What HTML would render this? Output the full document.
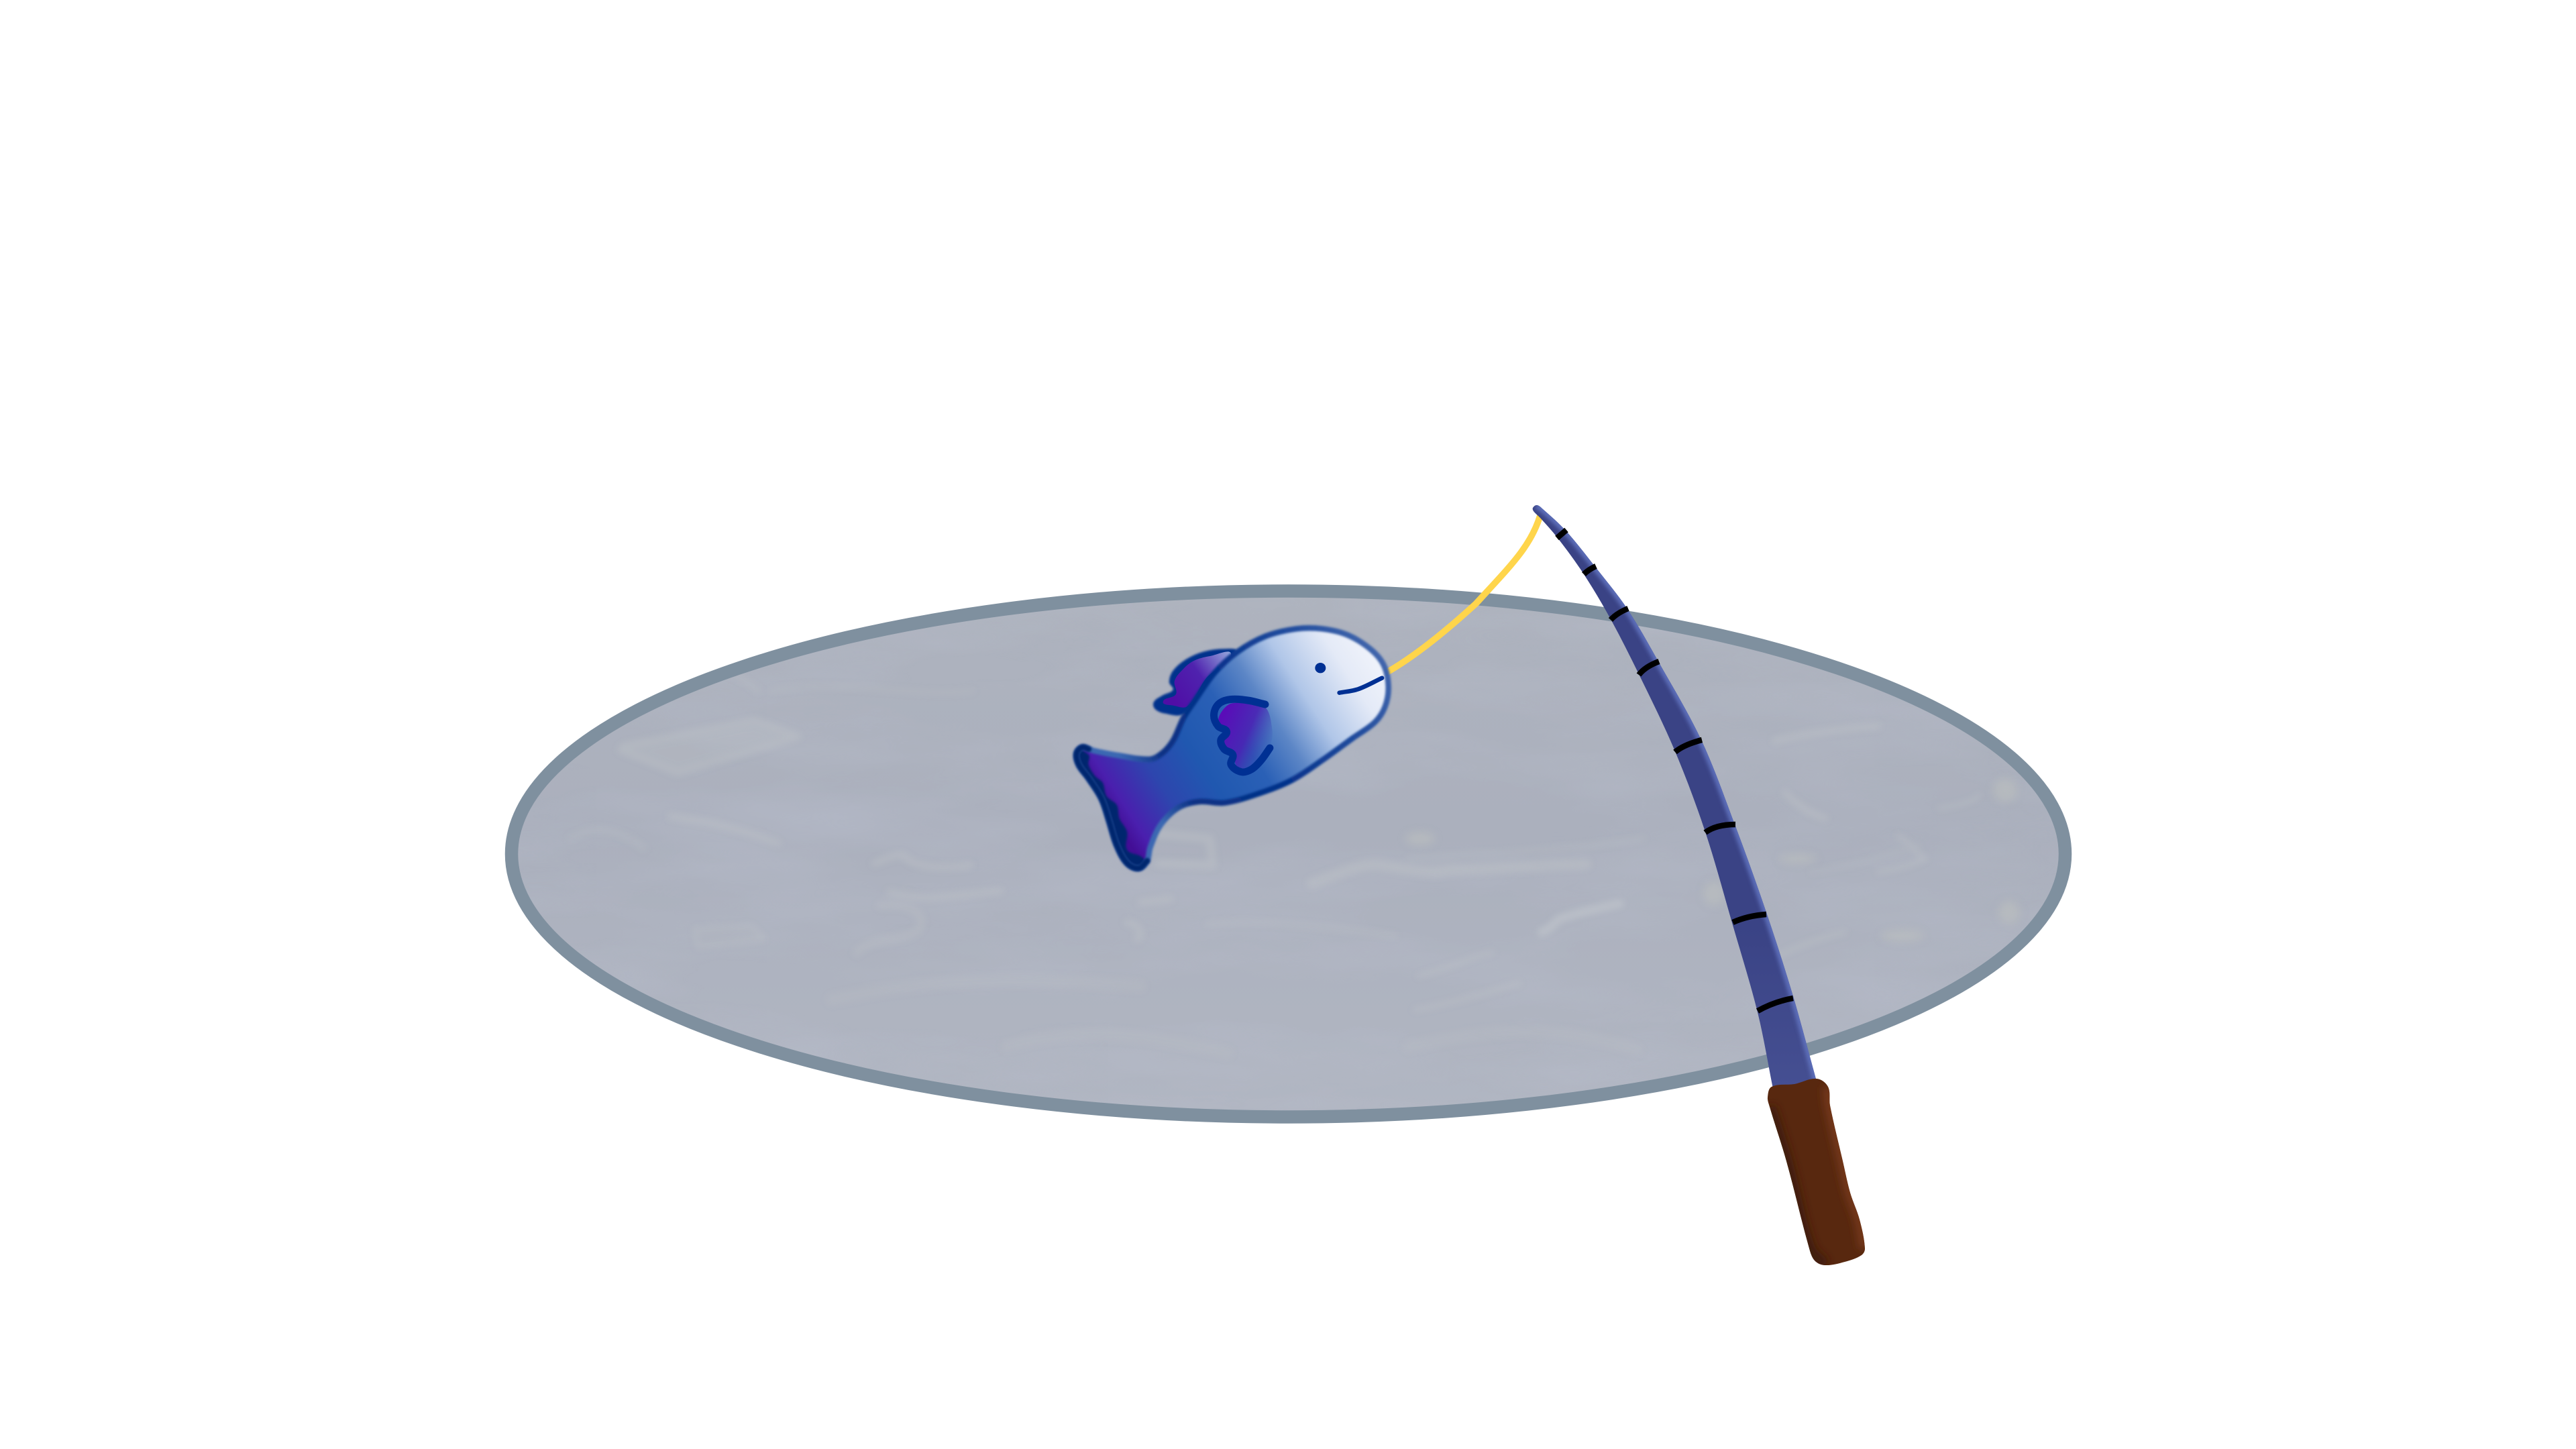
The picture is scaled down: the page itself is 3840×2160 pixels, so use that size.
<!DOCTYPE html>
<html lang="en">
<head>
<meta charset="utf-8">
<title>Fishing illustration</title>
<style>
html,body{margin:0;padding:0;width:3840px;height:2160px;background:#fff;overflow:hidden}
svg{display:block}
</style>
</head>
<body>
<svg id="scene" xmlns="http://www.w3.org/2000/svg" width="3840" height="2160" viewBox="0 0 3840 2160">
<defs>
  <clipPath id="pondClip"><ellipse cx="1920.5" cy="1273" rx="1158" ry="392"/></clipPath>
  <clipPath id="bodyClip"><path id="bodyClipPath"/></clipPath>
  <clipPath id="rodClip"><path id="rodClipPath"/></clipPath>
  <clipPath id="gripClip"><path id="gripClipPath"/></clipPath>
  <filter id="ripples" x="0" y="0" width="100%" height="100%" color-interpolation-filters="sRGB">
    <feTurbulence type="fractalNoise" baseFrequency="0.003 0.011" numOctaves="4" seed="7"/>
    <feColorMatrix type="matrix" values="0 0 0 0 0.74  0 0 0 0 0.76  0 0 0 0 0.82  1.6 0 0 0 -0.62"/>
  </filter>
  <filter id="b1" x="-10%" y="-10%" width="120%" height="120%"><feGaussianBlur stdDeviation="1.6"/></filter>
  <filter id="b2" x="-30%" y="-30%" width="160%" height="160%"><feGaussianBlur stdDeviation="3"/></filter>
  <filter id="b3" x="-50%" y="-50%" width="200%" height="200%"><feGaussianBlur stdDeviation="6"/></filter>
  <filter id="bw" filterUnits="userSpaceOnUse" x="740" y="860" width="2360" height="830"><feGaussianBlur stdDeviation="5"/></filter>
  <linearGradient id="pondShade" x1="0" y1="0" x2="0" y2="1">
    <stop offset="0" stop-color="#aeb3be"/>
    <stop offset="0.45" stop-color="#abb0bd"/>
    <stop offset="1" stop-color="#b1b6c2"/>
  </linearGradient>
  <linearGradient id="rodBase" gradientUnits="userSpaceOnUse" x1="0" y1="1380" x2="0" y2="1620">
    <stop offset="0" stop-color="#3a4385"/>
    <stop offset="1" stop-color="#454f92"/>
  </linearGradient>
  <linearGradient id="bodyFill" gradientUnits="userSpaceOnUse" x1="2060" y1="960" x2="1660" y2="1220">
    <stop offset="0" stop-color="#f4f6fc"/>
    <stop offset="0.14" stop-color="#e4eaf7"/>
    <stop offset="0.29" stop-color="#b0c6e8"/>
    <stop offset="0.41" stop-color="#5c86c6"/>
    <stop offset="0.53" stop-color="#2a60b6"/>
    <stop offset="0.68" stop-color="#2058b0"/>
    <stop offset="0.82" stop-color="#2d46ae"/>
    <stop offset="0.95" stop-color="#4a1fae"/>
    <stop offset="1" stop-color="#430e96"/>
  </linearGradient>
  <linearGradient id="bodyStroke" gradientUnits="userSpaceOnUse" x1="2060" y1="960" x2="1660" y2="1220">
    <stop offset="0" stop-color="#4468ad"/>
    <stop offset="0.2" stop-color="#234e9f"/>
    <stop offset="0.5" stop-color="#03308a"/>
    <stop offset="0.76" stop-color="#0a3084"/>
    <stop offset="0.88" stop-color="#3a68b2"/>
    <stop offset="1" stop-color="#3a68b2"/>
  </linearGradient>
  <linearGradient id="dorsalFill" gradientUnits="userSpaceOnUse" x1="1745" y1="1040" x2="1835" y2="975">
    <stop offset="0" stop-color="#4f0ea6"/>
    <stop offset="0.5" stop-color="#4f22ae"/>
    <stop offset="1" stop-color="#93a4dc"/>
  </linearGradient>
  <linearGradient id="sideFinFill" gradientUnits="userSpaceOnUse" x1="1820" y1="1075" x2="1900" y2="1110">
    <stop offset="0" stop-color="#5a0cb8" stop-opacity="1"/>
    <stop offset="0.5" stop-color="#4a22b4" stop-opacity="0.9"/>
    <stop offset="1" stop-color="#2e52b4" stop-opacity="0"/>
  </linearGradient>
</defs>

<!-- pond -->
<g>
  <ellipse cx="1920.5" cy="1273" rx="1158" ry="392" fill="url(#pondShade)"/>
  <g clip-path="url(#pondClip)">
    <rect x="740" y="860" width="2360" height="830" filter="url(#ripples)" opacity="0.4"/>
    <g fill="none" stroke="#c0c4c8" stroke-linecap="round" stroke-linejoin="round" stroke-width="10" filter="url(#bw)" opacity="0.42">
      <path d="M925 1118L1010 1152L1190 1098L1125 1074L930 1112Z" fill="#bcc1c4" fill-opacity="0.6"/>
      <path d="M1000 1217C1060 1225 1110 1238 1160 1257"/>
      <path d="M1304 1287C1325 1278 1340 1272 1348 1275C1358 1292 1400 1296 1446 1290"/>
      <path d="M1326 1330C1350 1336 1380 1340 1400 1337C1430 1335 1460 1332 1491 1328"/>
      <path d="M1312 1350C1350 1345 1385 1360 1370 1385C1350 1405 1300 1395 1277 1420" stroke-width="12" opacity="0.7"/>
      <path d="M1035 1385L1120 1380L1140 1400L1040 1412Z" fill="#b6babf" fill-opacity="0.5" stroke-width="5"/>
      <path d="M1956 1317C1990 1305 2030 1285 2058 1290C2100 1295 2130 1305 2160 1297C2240 1295 2300 1290 2364 1288" stroke-width="16"/>
      <path d="M2298 1390C2320 1380 2320 1368 2334 1367C2370 1356 2390 1352 2415 1347" stroke="#cdd2d4" stroke-width="12"/>
      <path d="M1727 1243L1803 1250L1808 1290L1727 1287" stroke-width="12"/>
      <path d="M1680 1375C1700 1378 1705 1395 1695 1400"/>
      <path d="M1700 1345L1745 1340"/>
      <path d="M2646 1104C2700 1092 2750 1086 2800 1082"/>
      <path d="M2661 1182C2680 1200 2700 1215 2721 1220"/>
      <path d="M2829 1246C2850 1255 2855 1275 2871 1279C2850 1290 2830 1295 2800 1300" stroke-width="7"/>
      <path d="M2890 1205C2920 1200 2945 1195 2950 1185" stroke-width="6"/>
      <path d="M1800 1377C1900 1370 2000 1385 2080 1395" stroke-width="8" opacity="0.7"/>
      <path d="M2115 1455C2170 1440 2210 1420 2225 1420" stroke-width="7"/>
      <path d="M2110 1505C2170 1495 2250 1470 2265 1465" stroke-width="7"/>
      <path d="M1240 1490C1340 1470 1450 1450 1700 1470" stroke-width="18" opacity="0.5"/>
      <path d="M1500 1560C1600 1530 1700 1540 1830 1570" stroke-width="18" opacity="0.5"/>
      <path d="M2100 1560C2200 1540 2300 1520 2440 1565" stroke-width="18" opacity="0.5"/>
      <path d="M2100 1280C2250 1270 2350 1265 2450 1250" stroke-width="8" opacity="0.6"/>
      <path d="M900 980C1000 960 1100 1000 1130 1030" opacity="0.6"/>
      <path d="M1150 1030C1250 1010 1350 1040 1450 1030" stroke-width="8" opacity="0.5"/>
      <path d="M850 1250C890 1225 930 1240 960 1265" opacity="0.6"/>
      <path d="M2700 1300C2760 1290 2800 1280 2860 1260" stroke-width="7" opacity="0.6"/>
      <path d="M2640 1430C2680 1410 2720 1395 2750 1390" stroke-width="7"/>
    </g>
    <g fill="#bfc2bf" filter="url(#b3)" opacity="0.5">
      <ellipse cx="2836" cy="1395" rx="32" ry="9"/>
      <ellipse cx="2989" cy="1178" rx="18" ry="18"/>
      <ellipse cx="2995" cy="1360" rx="16" ry="18"/>
      <ellipse cx="2555" cy="1332" rx="16" ry="18"/>
      <ellipse cx="2680" cy="1280" rx="28" ry="7"/>
      <ellipse cx="2117" cy="1250" rx="22" ry="10"/>
    </g>
  </g>
  <ellipse cx="1920.5" cy="1273" rx="1158" ry="392" fill="none" stroke="#7f909f" stroke-width="19.5"/>
</g>

<!-- fishing line -->
<path d="M2296 768C2282 815 2250 845 2200 900C2165 932 2115 975 2066 1003" fill="none" stroke="#ffd54b" stroke-width="9.5"/>

<!-- rod -->
<g>
  <path id="rodShape" fill="url(#rodBase)"/>
  <g clip-path="url(#rodClip)">
    <path id="rodHighlight" fill="none" stroke="#5c6db8" stroke-width="11" filter="url(#b2)"/>
  </g>
  <g fill="none" stroke="#000" stroke-width="8.5">
    <path d="M2321 802L2335 790"/>
    <path d="M2361 856Q2368 849 2379 844"/>
    <path d="M2401 924Q2410 914 2427 907"/>
    <path d="M2443 1006Q2452 994 2473 986"/>
    <path d="M2497 1121Q2510 1110 2537 1103"/>
    <path d="M2542 1241Q2558 1229 2587 1229"/>
    <path d="M2583 1375Q2605 1365 2633 1363"/>
    <path d="M2620 1507Q2645 1493 2673 1488"/>
  </g>
  <path id="gripShape" fill="#58280f"/>
  <g clip-path="url(#gripClip)">
    <path id="gripLight" fill="none" stroke="#74381a" stroke-width="16" filter="url(#b3)"/>
    <path id="gripDark" fill="none" stroke="#3f1c0c" stroke-width="18" filter="url(#b3)"/>
  </g>
</g>

<!-- fish -->
<g>
  <path id="dorsalOuter" fill="#04308c" stroke="#04308c" stroke-width="1" filter="url(#b1)"/>
  <path id="dorsalInner" fill="url(#dorsalFill)"/>
  <path id="bodyFillPath" fill="url(#bodyFill)"/>
  <g clip-path="url(#bodyClip)">
    <path id="tailDark" fill="#03256e" filter="url(#b1)"/>
  </g>
  <path id="bodyStrokePath" fill="none" stroke="url(#bodyStroke)" stroke-width="8.5" filter="url(#b1)"/>
  <path id="tailEdge" fill="none" stroke="#03256e" stroke-width="9" stroke-linecap="round" filter="url(#b1)"/>
  <path id="sideFinFillPath" fill="url(#sideFinFill)"/>
  <path id="sideFinStroke" fill="none" stroke="#003093" stroke-width="11" stroke-linecap="round" stroke-linejoin="round"/>
  <ellipse cx="1968.3" cy="995.7" rx="8" ry="7.7" fill="#003093"/>
  <path id="mouth" fill="none" stroke="#003093" stroke-width="6.5" stroke-linecap="round"/>
</g>
</svg>

<script>
var toX = function (x) { return 1550 + x / 2.613; };
var toY = function (y) { return 900 + y / 3; };
function fishPts(a) { return a.map(function (p) { return [toX(p[0]), toY(p[1])]; }); }
function smooth(pts, closed) {
  var n = pts.length, d = 'M' + pts[0][0].toFixed(1) + ' ' + pts[0][1].toFixed(1);
  var segs = closed ? n : n - 1;
  function g(i) { return closed ? pts[(i + n) % n] : pts[Math.max(0, Math.min(n - 1, i))]; }
  function tan(i) {
    var a = g(i - 1), b = g(i + 1), dx = b[0] - a[0], dy = b[1] - a[1], l = Math.sqrt(dx * dx + dy * dy) || 1;
    return [dx / l, dy / l];
  }
  for (var i = 0; i < segs; i++) {
    var p1 = g(i), p2 = g(i + 1), t1 = tan(i), t2 = tan(i + 1);
    var len = Math.sqrt(Math.pow(p2[0] - p1[0], 2) + Math.pow(p2[1] - p1[1], 2)) / 3;
    d += 'C' + (p1[0] + t1[0] * len).toFixed(1) + ' ' + (p1[1] + t1[1] * len).toFixed(1) + ' ' + (p2[0] - t2[0] * len).toFixed(1) + ' ' + (p2[1] - t2[1] * len).toFixed(1) + ' ' + p2[0].toFixed(1) + ' ' + p2[1].toFixed(1);
  }
  return closed ? d + 'Z' : d;
}
function set(id, d) { document.getElementById(id).setAttribute('d', d); }

var bodyOutline = fishPts([[143,670],[165,642],[210,657],[300,677],[430,695],[480,665],[520,610],[560,510],[600,440],[680,310],[770,215],[880,145],[1000,112],[1100,112],[1200,140],[1290,205],[1340,275],[1358,370],[1345,460],[1305,530],[1220,600],[1100,700],[980,790],[850,850],[720,890],[620,885],[540,912],[470,990],[430,1090],[418,1150],[385,1183],[340,1160],[300,1080],[270,970],[240,870],[190,780],[152,720]]);
var bodyD = smooth(bodyOutline, true);
set('bodyFillPath', bodyD);
set('bodyStrokePath', bodyD);
set('bodyClipPath', bodyD);

set('tailDark', smooth(fishPts([[120,650],[190,675],[190,720],[215,770],[245,800],[260,860],[300,900],[310,960],[340,1020],[340,1100],[400,1135],[430,1210],[300,1210],[120,800]]), true));
set('tailEdge', smooth(fishPts([[190,650],[165,642],[143,670],[152,720],[190,780],[240,870],[270,970],[300,1080],[340,1160],[385,1183],[418,1150]]), false));

set('dorsalOuter', smooth(fishPts([[445,440],[480,410],[520,385],[505,350],[520,300],[570,250],[640,215],[720,203],[765,215],[700,290],[620,400],[560,492],[490,490],[450,470]]), true));
set('dorsalInner', smooth(fishPts([[480,438],[530,405],[525,345],[560,290],[600,255],[660,235],[745,228],[650,330],[575,458],[520,455]]), true));

set('sideFinFillPath', smooth(fishPts([[710,480],[750,445],[870,455],[905,560],[895,645],[860,700],[815,740],[770,730],[750,675],[715,640],[715,580],[695,530]]), true));
set('sideFinStroke', smooth(fishPts([[878,450],[810,432],[740,428],[695,450],[678,500],[695,548],[728,572],[705,610],[718,650],[752,675],[745,720],[785,752],[825,740],[862,700],[896,645]]), false));
set('mouth', smooth(fishPts([[1167,398],[1240,382],[1333,332]]), false));

var rodRight = [[2291,753],[2300,759],[2334,791],[2378,845],[2426,908],[2472,986],[2536,1103],[2586,1229],[2633,1360],[2673,1485],[2708,1612],[2712,1628]];
var rodLeft = [[2646,1640],[2642,1618],[2620,1509],[2583,1379],[2542,1240],[2497,1120],[2443,1005],[2401,923],[2361,856],[2322,802],[2296,772],[2286,762],[2285,757]];
var rodD = smooth(rodRight.concat(rodLeft), true);
set('rodShape', rodD);
set('rodClipPath', rodD);
set('rodHighlight', smooth(rodRight, false));

var gripPts = [[2635,1636],[2641,1620],[2675,1616],[2708,1608],[2725,1620],[2728,1648],[2747,1731],[2758,1778],[2772,1818],[2780,1861],[2775,1871],[2750,1881],[2720,1886],[2705,1879],[2697,1861],[2663,1731],[2638,1650]];
var gripD = smooth(gripPts, true);
set('gripShape', gripD);
set('gripClipPath', gripD);
set('gripLight', smooth([[2725,1620],[2728,1648],[2747,1731],[2758,1778],[2772,1818],[2780,1861]], false));
set('gripDark', smooth([[2638,1650],[2663,1731],[2697,1861],[2720,1886]], false));
</script>
</body>
</html>
